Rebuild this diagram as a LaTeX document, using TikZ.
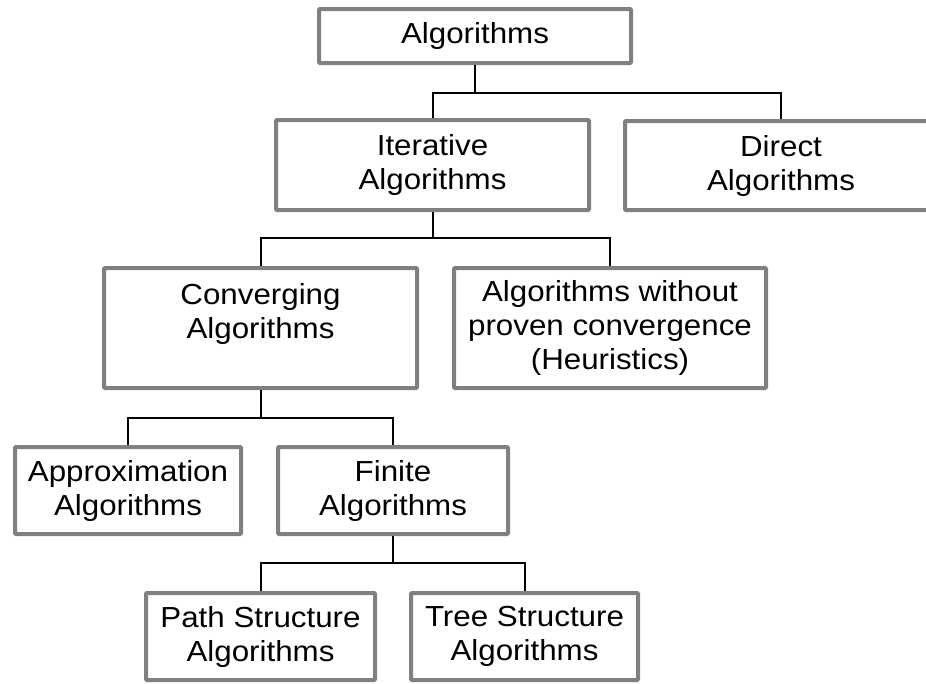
\documentclass[tikz,border=0pt]{standalone}
\usepackage{fontspec}
\setmainfont{Liberation Sans}[FakeStretch=1.08]
\definecolor{boxgray}{RGB}{128,128,128}
\begin{document}
\begin{tikzpicture}[x=1pt,y=-1pt,
  box/.style={draw=boxgray, line width=4pt, rounded corners=1pt, fill=white,
    inner sep=0pt, align=center, text=black,
    font=\fontsize{29}{34}\selectfont},
  conn/.style={draw=black, line width=2pt}]
\useasboundingbox (0,0) rectangle (926,683);
\fill[white] (0,0) rectangle (926,683);
% boxes (minimum sizes = outer size minus line width)
\node[box, minimum width=312pt, minimum height=54pt] (alg) at (475,36) {Algorithms};
\node[box, minimum width=313pt, minimum height=90pt] (it) at (432.5,165) {Iterative\\Algorithms};
\node[box, minimum width=312pt, minimum height=89pt] (dir) at (781,165.5) {Direct\\Algorithms};
\node[box, minimum width=313pt, minimum height=120pt] (conv) at (260.5,328) {Converging\\Algorithms\\\mbox{}};
\node[box, minimum width=312pt, minimum height=120pt] (heur) at (610,328) {Algorithms without\\proven convergence\\(Heuristics)};
\node[box, minimum width=226pt, minimum height=87pt] (appr) at (128,490.5) {Approximation\\Algorithms};
\node[box, minimum width=230pt, minimum height=87pt] (fin) at (393,490.5) {Finite\\Algorithms};
\node[box, minimum width=229pt, minimum height=87pt] (path) at (260.5,636.5) {Path Structure\\Algorithms};
\node[box, minimum width=227pt, minimum height=87pt] (tree) at (524.5,636.5) {Tree Structure\\Algorithms};
% connectors
\coordinate (j1) at (475,93);
\coordinate (j2) at (432.5,238);
\coordinate (j3) at (260.5,418);
\coordinate (j4) at (393,563);
\draw[conn] (alg.south) -- (j1);
\draw[conn] (it.north) |- (j1) -| (dir.north);
\draw[conn] (it.south) -- (j2);
\draw[conn] (conv.north) |- (j2) -| (heur.north);
\draw[conn] (conv.south) -- (j3);
\draw[conn] (appr.north) |- (j3) -| (fin.north);
\draw[conn] (fin.south) -- (j4);
\draw[conn] (path.north) |- (j4) -| (tree.north);
\end{tikzpicture}
\end{document}
